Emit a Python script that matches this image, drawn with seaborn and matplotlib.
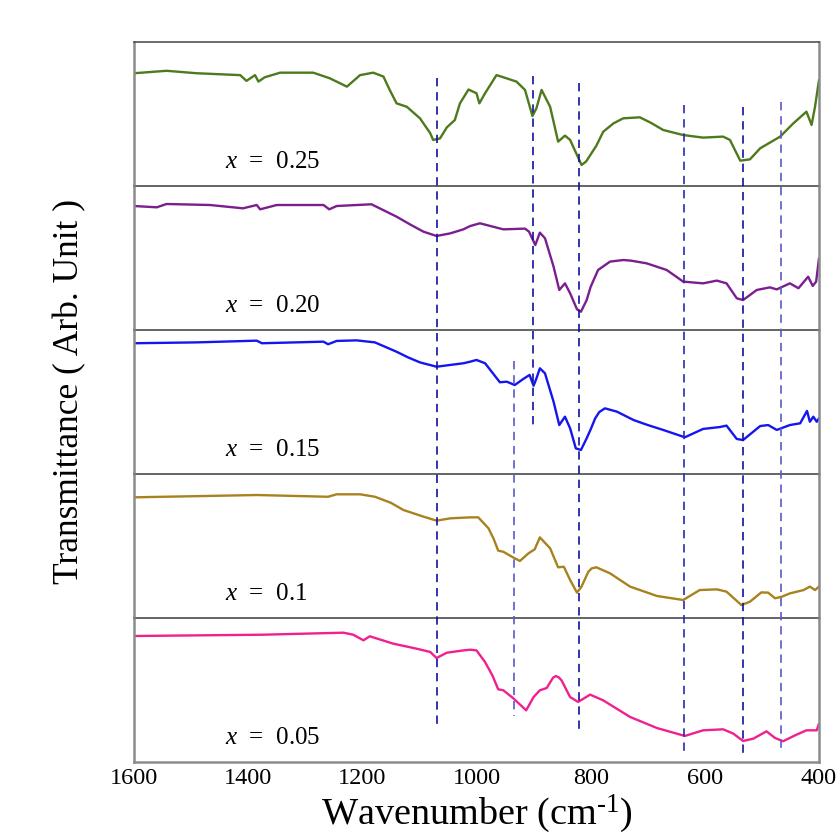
import numpy as np
import pandas as pd
import matplotlib
matplotlib.use("Agg")
import matplotlib.pyplot as plt
import seaborn as sns

# ---- data (wavenumber in cm-1, transmittance in arb. units per panel) ----
wn_025 = [1600, 1543, 1490, 1414, 1403, 1388, 1382, 1371, 1344, 1286, 1257, 1227, 1204, 1181,
          1163, 1152, 1140, 1122, 1099, 1081, 1076, 1064, 1052, 1038, 1029, 1014, 1000, 995, 985,
          965, 953, 930, 915, 902, 895, 886, 871, 857, 845, 836, 816, 808, 790, 778, 760, 743, 714,
          695, 673, 638, 603, 568, 556, 538, 521, 503, 468, 445, 422, 413, 407, 400]
t_025 = [78.3, 80, 78.3, 77, 73, 77, 72.5, 75.5, 78.7, 78.7, 74.8, 69, 77, 78.7,
         76, 66.7, 57.4, 55, 47, 36.6, 32, 33, 40.7, 45.8, 57.4, 67, 64.4, 57.4, 64.4,
         77, 75.5, 72.5, 66.7, 48.6, 54, 66.7, 55, 30.8, 35, 32, 14.6, 17, 28, 37.7, 43.5, 47, 47.7,
         44, 38.9, 35.4, 33.6, 34.3, 32, 17.6, 18.5, 26.2, 34.3, 43.5, 51.6, 42.4, 55, 73.6]

wn_020 = [1600, 1560, 1543, 1467, 1409, 1385, 1379, 1350, 1268, 1258, 1245, 1184, 1140, 1115,
          1093, 1070, 1046, 1023, 1011, 994, 953, 915, 908, 897, 889, 880, 865, 855, 845,
          836, 824, 817, 807, 800, 787, 766, 743, 730, 702, 667, 650, 638, 603, 579, 562, 544, 533, 509,
          486, 474, 451, 436, 419, 411, 405, 400]
t_020 = [86.1, 85.2, 87.5, 86.8, 84.5, 86.8, 83.8, 86.8, 86.8, 83.8, 86.1, 87.3, 78.7, 73,
         68.3, 65.3, 67.1, 69.9, 72.2, 74.1, 69.9, 70.4, 68.3, 59, 67.6, 63.7, 44, 27.8, 32.4,
         25.5, 14.4, 12.7, 20.8, 30, 41.7, 47.5, 48.6, 48.2, 46.3, 41.7, 37, 33.6, 32.4, 34.3, 32.4, 22, 20.8, 27.8,
         29.6, 28.2, 32.4, 29, 37, 30.6, 33.6, 49.8]

wn_015 = [1600, 1490, 1385, 1376, 1268, 1260, 1245, 1210, 1178, 1140, 1120, 1099, 1070, 1023,
          1011, 1000, 985, 959, 947, 933, 918, 907, 900, 895, 889, 880, 865, 855, 845, 836,
          826, 817, 807, 800, 792, 785, 775, 754, 725, 700, 673, 635, 603, 574, 562, 544, 533, 503, 489,
          474, 451, 433, 421, 416, 410, 404, 400]
t_015 = [90.8, 91.4, 92.6, 90.8, 91.9, 90.1, 92.4, 92.8, 91.4, 84.9, 81, 77.5, 74.5, 76.9,
         78, 79.2, 76.9, 63.7, 64.1, 61.8, 66, 68.8, 61.3, 66.4, 73.4, 69.9, 50.2, 34, 39.8, 31.7,
         17.8, 16.7, 24.8, 31, 38.7, 43, 45.6, 43.3, 37.5, 34, 30.6, 25.5, 31.3, 32.6, 33.6, 24.3, 23.6, 33.3, 34,
         30.6, 34, 35.2, 43.8, 36.3, 39.8, 36.3, 38.7]

wn_010 = [1600, 1385, 1260, 1245, 1204, 1178, 1150, 1128, 1093, 1070, 1046, 1011, 997, 979, 970,
          962, 953, 936, 924, 909, 898, 889, 871, 857, 847, 836, 824, 816, 810, 804, 798, 790, 766,
          731, 684, 638, 609, 579, 562, 536, 521, 501, 489, 477, 465, 451, 427, 416, 407, 400]
t_010 = [83.8, 85.4, 84.2, 85.9, 85.9, 84.2, 80, 75, 70.4, 67.6, 69.2, 69.9, 69.9, 62.3, 55,
         46.8, 46, 42.1, 39.6, 44.9, 47.7, 56, 48.4, 35.2, 35.6, 26.4, 17.6, 21.8, 27, 32.2, 34.5, 35.2, 31,
         21.8, 15.3, 12.5, 19.4, 19.9, 18.3, 9, 11.3, 17.8, 17.6, 13.7, 14.8, 17.1, 19.4, 21.8, 19.4, 21.8]

wn_005 = [1600, 1374, 1233, 1216, 1198, 1187, 1146, 1105, 1081, 1070, 1052, 1023, 1011,
          1000, 985, 972, 962, 953, 936, 913, 900, 889, 877, 866, 861, 856, 851, 836, 822, 801, 778, 731,
          684, 635, 603, 568, 550, 533, 515, 492, 477, 463, 442, 422, 404, 400]
t_005 = [87.5, 88.4, 89.8, 88.4, 84.5, 87.3, 82.2, 78.7, 76.4, 72.2, 75.9, 77.5, 78,
         77.5, 69.4, 60, 50.5, 49.8, 44.4, 35.9, 45.1, 49.8, 51.4, 58.5, 59.7, 58.8, 56.7, 45.1, 41.7, 46.8, 42.8, 31.3,
         23.6, 18.1, 22, 22.7, 19.7, 14.6, 16.2, 21.3, 16.7, 14.4, 18.5, 22, 22, 26.6]

labels = ["0.25", "0.20", "0.15", "0.1", "0.05"]
colors = ["#4d7a1c", "#7b1e8e", "#1515f0", "#a8821e", "#f0208e"]
series = [(wn_025, t_025), (wn_020, t_020), (wn_015, t_015), (wn_010, t_010), (wn_005, t_005)]

# reference band positions (cm-1) for dashed markers
band_wn = [1069, 901, 934, 820, 636, 533, 467]
band_color = ["#12129e", "#12129e", "#5a5ac8", "#12129e", "#2a2ab4", "#12129e", "#5a5ac8"]
# vertical extent of each marker in pixel rows of the stacked frame (top, bottom)
band_span = [(78, 729), (76, 430), (361, 716), (83, 731), (105, 752), (107, 755), (102, 750)]

sns.set_style("white")
plt.rcParams["font.family"] = ["Liberation Serif", "DejaVu Serif"]
plt.rcParams["mathtext.fontset"] = "custom"
plt.rcParams["mathtext.rm"] = "Liberation Serif"
plt.rcParams["mathtext.it"] = "Liberation Serif:italic"
plt.rcParams["text.color"] = "black"
plt.rcParams["axes.labelcolor"] = "black"
plt.rcParams["xtick.color"] = "black"

W, H = 840, 839
fig, axes = plt.subplots(5, 1, figsize=(W / 100, H / 100), dpi=100, sharex=True)
L, R, T, B = 134, 819, 42, 762
fig.subplots_adjust(left=L / W, right=R / W, top=1 - T / H, bottom=1 - B / H, hspace=0)

for i, ax in enumerate(axes):
    wn, tr = series[i]
    df = pd.DataFrame({"wn": wn, "T": tr})
    sns.lineplot(data=df, x="wn", y="T", ax=ax, color=colors[i], lw=1.7)
    ax.set_facecolor("none")
    ax.set_xlim(1600, 400)
    ax.set_ylim(0, 100)
    ax.set_yticks([])
    ax.set_ylabel("")
    ax.set_xlabel("")
    ax.text(0.133, 0.17, "$x$  =  " + labels[i], transform=ax.transAxes,
            fontsize=18, va="center", ha="left")
    for s in ["left", "right"]:
        ax.spines[s].set_color("#8c8c8c")
        ax.spines[s].set_linewidth(1.8)
    ax.spines["bottom"].set_color("#3a3a3a")
    ax.spines["bottom"].set_linewidth(1.1)
    ax.spines["bottom"].set_zorder(5)
    if i == 0:
        ax.spines["top"].set_color("#444444")
        ax.spines["top"].set_linewidth(1.1)
    else:
        ax.spines["top"].set_visible(False)
    ax.tick_params(axis="x", length=0)

axes[-1].spines["bottom"].set_color("#8c8c8c")
axes[-1].spines["bottom"].set_linewidth(1.8)
axes[-1].set_xticks([1600, 1400, 1200, 1000, 800, 600, 400])
axes[-1].tick_params(axis="x", labelsize=17.5, pad=4)
axes[-1].set_xlabel(r"Wavenumber (cm$^{\text{-1}}$)", fontsize=27.5, labelpad=3)

# overlay for dashed band markers spanning all panels
ov = fig.add_axes([L / W, 1 - B / H, (R - L) / W, (B - T) / H], facecolor="none")
ov.set_xlim(1600, 400)
ov.set_ylim(B, T)
ov.axis("off")
for w, c, (y0, y1) in zip(band_wn, band_color, band_span):
    ov.plot([w, w], [y0, y1], ls=(0, (5, 3.5)), color=c, lw=1.2)

fig.text(70 / W, 1 - 391 / H, "Transmittance ( Arb. Unit )", rotation=90,
         fontsize=25.5, ha="center", va="center")

fig.savefig("out.png", dpi=100, facecolor="white")
